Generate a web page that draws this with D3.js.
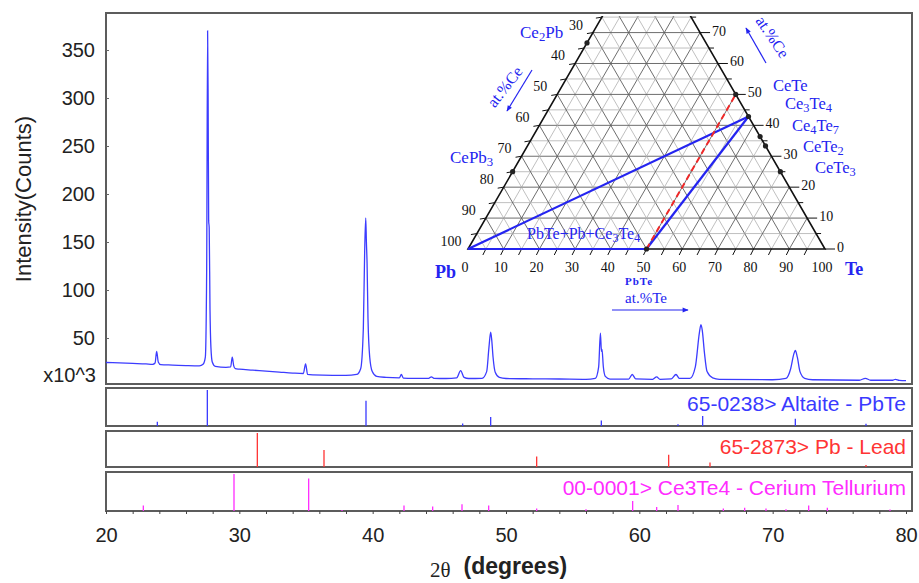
<!DOCTYPE html>
<html>
<head>
<meta charset="utf-8">
<script src="https://cdn.jsdelivr.net/npm/d3@7"></script>
<style>
body { margin: 0; background: #fff; }
svg { display: block; }
</style>
</head>
<body>
<div id="chart"></div>
<script>
// measured XRD scan: [2theta, counts x10^3]
var scan = [
	[20, 24.5], [21, 24], [22, 23.5], [23, 23], [23.5, 22.6], [23.68, 24], [23.8, 36], [23.92, 25], [24.1, 22.2],
	[25, 21.8], [26, 21.3], [27, 21], [27.3, 23], [27.45, 30], [27.55, 120], [27.62, 370], [27.66, 300],
	[27.7, 172], [27.74, 165], [27.8, 80], [27.87, 40], [27.97, 25], [28.2, 20.5], [29, 19.5], [29.35, 20],
	[29.47, 30], [29.58, 21], [29.7, 18], [30, 17.5], [31, 16.5], [32, 15.5], [33, 14.5], [34, 13.5],
	[34.8, 13], [34.97, 23], [35.12, 12], [35.5, 11.5], [37, 11], [38, 11], [38.8, 12], [39.1, 18],
	[39.3, 60], [39.4, 140], [39.48, 175], [39.53, 150], [39.58, 128], [39.65, 70], [39.78, 30],
	[39.97, 15], [40.3, 10], [41, 9], [42, 8.5], [42.15, 12], [42.3, 8.3], [43, 8], [44.2, 8], [44.4, 9.5],
	[44.6, 8], [45.5, 7.8], [46.3, 8.5], [46.6, 16], [46.85, 9], [47.2, 7.8], [48.2, 8], [48.55, 15],
	[48.72, 40], [48.85, 56], [48.93, 48], [49.03, 30], [49.2, 14], [49.5, 9], [50, 7.8], [52, 7.5],
	[54, 7.3], [56, 7], [56.7, 8], [56.95, 20], [57.08, 55], [57.16, 36], [57.2, 38], [57.3, 20],
	[57.45, 10], [57.8, 7.2], [59.2, 7.2], [59.47, 12], [59.72, 7.5], [61, 7], [61.3, 9.5], [61.55, 7],
	[62.4, 7.5], [62.75, 12], [63, 8], [63.8, 8], [64.2, 20], [64.5, 55], [64.62, 64], [64.72, 58],
	[64.88, 35], [65.08, 15], [65.5, 8.5], [66, 7], [70, 6.5], [71, 8], [71.35, 18], [71.58, 33],
	[71.7, 37], [71.85, 30], [72.05, 15], [72.4, 8], [73, 6.5], [76.5, 6], [76.95, 8], [77.35, 6],
	[79, 6], [79.2, 7], [79.5, 5.8], [80, 5.5]
]

// reference patterns: position (2theta) and relative intensity (%)
var altaitePos = [23.85, 27.6, 39.5, 46.75, 48.85, 57.15, 62.9, 64.75, 71.7, 77.0]
var altaiteRel = [12, 100, 70, 7, 25, 15, 5, 28, 20, 6]
var leadPos = [31.35, 36.35, 52.3, 62.2, 65.3, 77.0]
var leadRel = [100, 50, 31, 36, 13, 6]
var cerPos = [22.8, 29.6, 35.2, 37.7, 42.35, 44.5, 46.7, 48.7, 52.3, 56.0, 59.5, 61.3, 62.9, 66.3, 67.9, 69.5, 71.0, 72.7, 74.1, 78.8]
var cerRel = [15, 100, 88, 3, 15, 12, 18, 15, 7, 5, 27, 11, 16, 7, 9, 7, 5, 15, 9, 4]

var yTicks = [50, 100, 150, 200, 250, 300, 350]
var xTicks = [20, 30, 40, 50, 60, 70, 80]

// Ce-Pb-Te ternary (at.%)
var edgePhasesCeTe = [["CeTe", 50], ["Ce3Te4", 42.86], ["Ce4Te7", 36.36], ["CeTe2", 33.33], ["CeTe3", 25]]
var edgePhasesCePb = [["Ce2Pb", 66.67], ["CePb3", 25]]
var ternTicks = [0, 10, 20, 30, 40, 50, 60, 70, 80, 90, 100]
var sideTicks = [0, 10, 20, 30, 40, 50, 60, 70]
// tie lines as [te, ce] end points
var tieLines = [[[0, 0], [50, 0]], [[0, 0], [57.14, 42.86]], [[50, 0], [57.14, 42.86]]]
var dashedLine = [[50, 0], [50, 50]]

var width = 919, height = 583
var sans = "'Liberation Sans', Arial, sans-serif"
var serif = "'Liberation Serif', 'Times New Roman', serif"
var blue = "#2424f0"

var svg = d3.select("#chart").append("svg")
	.attr("width", width)
	.attr("height", height)
	.style("font-family", sans)

svg.append("rect").attr("width", width).attr("height", height).attr("fill", "#fff")

var x = d3.scaleLinear().domain([20, 80]).range([106, 906])
var y = d3.scaleLinear().domain([0, 385]).range([386, 16.4])

// main frame
svg.append("rect")
	.attr("x", 106).attr("y", 13).attr("width", 806).attr("height", 371)
	.attr("fill", "none").attr("stroke", "#5c5c5c").attr("stroke-width", 2)

// y axis
var yAxis = svg.append("g")
	.attr("transform", "translate(106,0)")
	.call(d3.axisLeft(y).tickValues(yTicks).tickSize(-3).tickPadding(11))
yAxis.select(".domain").remove()
yAxis.selectAll("line").attr("stroke", "#666")
yAxis.selectAll("text").attr("font-size", 20).attr("fill", "#222").style("font-family", sans)

svg.append("text")
	.attr("x", 96).attr("y", y(0) - 4)
	.attr("text-anchor", "end")
	.attr("font-size", 20).attr("fill", "#222")
	.text("x10^3")

svg.append("text")
	.attr("transform", "translate(31,199) rotate(-90)")
	.attr("text-anchor", "middle")
	.attr("font-size", 22).attr("fill", "#222")
	.text("Intensity(Counts)")

// scan trace
var line = d3.line()
	.x(function(d){return x(d[0]);})
	.y(function(d){return y(d[1]);})
	.curve(d3.curveMonotoneX)

svg.append("path")
	.datum(scan)
	.attr("d", line)
	.attr("fill", "none")
	.attr("stroke", "#3c3cff")
	.attr("stroke-width", 1.3)

// stick panels
var panels = [
	{pos: altaitePos, rel: altaiteRel, top: 388, bottom: 426, color: "#3a3aff", label: "65-0238> Altaite - PbTe"},
	{pos: leadPos, rel: leadRel, top: 431, bottom: 467, color: "#ff3434", label: "65-2873> Pb - Lead"},
	{pos: cerPos, rel: cerRel, top: 472, bottom: 511, color: "#ff2cff", label: "00-0001> Ce3Te4 - Cerium Tellurium"}
]

panels.forEach(function(p){
	var h = d3.scaleLinear().domain([0, 100]).range([p.bottom, p.top + 2])
	var g = svg.append("g")
	g.append("rect")
		.attr("x", 106).attr("y", p.top).attr("width", 806).attr("height", p.bottom - p.top)
		.attr("fill", "#fff").attr("stroke", "#5c5c5c").attr("stroke-width", 2)
	g.selectAll(".stick")
		.data(d3.zip(p.pos, p.rel))
		.enter().append("line")
		.attr("class", "stick")
		.attr("x1", function(d){return x(d[0]);})
		.attr("x2", function(d){return x(d[0]);})
		.attr("y1", h(0))
		.attr("y2", function(d){return h(d[1]);})
		.attr("stroke", p.color)
		.attr("stroke-width", 1.3)
	g.append("text")
		.attr("x", 906).attr("y", p.top + 23)
		.attr("text-anchor", "end")
		.attr("font-size", 21)
		.attr("fill", p.color)
		.text(p.label)
})

// x axis
var xMinor = svg.append("g")
	.attr("transform", "translate(0,511)")
	.call(d3.axisBottom(x).tickValues(d3.range(20, 81, 2)).tickSize(3).tickFormat(""))
xMinor.select(".domain").remove()
xMinor.selectAll("line").attr("stroke", "#444")

var xAxis = svg.append("g")
	.attr("transform", "translate(0,511)")
	.call(d3.axisBottom(x).tickValues(xTicks).tickSize(0).tickPadding(17))
xAxis.select(".domain").remove()
xAxis.selectAll("text").attr("font-size", 20).attr("fill", "#222").style("font-family", sans)

var xTitle = svg.append("text")
	.attr("x", 430).attr("y", 577)
	.attr("fill", "#222")
xTitle.append("tspan").attr("font-family", serif).attr("font-size", 21).text("2θ")
xTitle.append("tspan").attr("dx", 13).attr("dy", -3).attr("font-size", 23).attr("font-weight", "bold").text("(degrees)")

// ---------------- ternary inset ----------------
var tx = d3.scaleLinear().domain([0, 100]).range([468, 825])
var ty = d3.scaleLinear().domain([0, 100]).range([249, 249 - 357 * Math.sqrt(3) / 2])
function tern(te, ce){ return [tx(te + ce / 2), ty(ce)]; }

var defs = svg.append("defs")
defs.append("clipPath").attr("id", "triclip")
	.append("rect").attr("x", 420).attr("y", 16).attr("width", 480).attr("height", 260)
defs.append("marker")
	.attr("id", "arrow").attr("viewBox", "0 0 10 10")
	.attr("refX", 9).attr("refY", 5)
	.attr("markerWidth", 6).attr("markerHeight", 5)
	.attr("orient", "auto")
	.append("path").attr("d", "M0,1 L10,5 L0,9 Z").attr("fill", blue)

var tri = svg.append("g").attr("clip-path", "url(#triclip)")
var tline = d3.line().x(function(d){return d[0];}).y(function(d){return d[1];})

var gridVals = d3.range(5, 100, 5)
gridVals.forEach(function(v){
	var major = v % 10 === 0
	var col = major ? "#5e5e5e" : "#b0b0b0"
	var sw = major ? 0.9 : 0.8
	var segs = [
		[tern(0, v), tern(100 - v, v)],
		[tern(v, 0), tern(v, 100 - v)],
		[tern(100 - v, 0), tern(0, 100 - v)]
	]
	segs.forEach(function(s){
		tri.append("path").attr("d", tline(s)).attr("stroke", col).attr("stroke-width", sw).attr("fill", "none")
	})
})

// edges
tri.append("path")
	.attr("d", tline([tern(0, 100), tern(0, 0), tern(100, 0), tern(0, 100)]))
	.attr("fill", "none").attr("stroke", "#111").attr("stroke-width", 1.6)

// edge ticks
d3.range(5, 100, 5).forEach(function(v){
	var b = tern(v, 0)
	tri.append("line").attr("x1", b[0]).attr("y1", b[1]).attr("x2", b[0] - 3).attr("y2", b[1] + 6)
		.attr("stroke", "#111").attr("stroke-width", 1)
	var l = tern(0, v)
	tri.append("line").attr("x1", l[0]).attr("y1", l[1]).attr("x2", l[0] - 6).attr("y2", l[1] + 1)
		.attr("stroke", "#111").attr("stroke-width", 1)
	var r = tern(100 - v, v)
	var len = v % 10 === 0 ? 10 : 5
	tri.append("line").attr("x1", r[0]).attr("y1", r[1]).attr("x2", r[0] + len).attr("y2", r[1])
		.attr("stroke", "#111").attr("stroke-width", 1)
})
var r0 = tern(100, 0)
tri.append("line").attr("x1", r0[0]).attr("y1", r0[1]).attr("x2", r0[0] + 10).attr("y2", r0[1])
	.attr("stroke", "#111").attr("stroke-width", 1)

// tick labels
svg.selectAll(".tb").data(ternTicks).enter().append("text")
	.attr("x", function(d){return tx(d) - 3;})
	.attr("y", 272)
	.attr("text-anchor", "middle")
	.attr("font-family", serif).attr("font-size", 14).attr("fill", "#111")
	.text(function(d){return d;})
svg.selectAll(".tl").data(sideTicks).enter().append("text")
	.attr("x", function(d){return tern(0, d)[0] - 17;})
	.attr("y", function(d){return tern(0, d)[1] - 3;})
	.attr("text-anchor", "middle")
	.attr("font-family", serif).attr("font-size", 14).attr("fill", "#111")
	.text(function(d){return 100 - d;})
svg.selectAll(".tr").data(sideTicks).enter().append("text")
	.attr("x", function(d){return tern(100 - d, d)[0] + 12;})
	.attr("y", function(d){return tern(100 - d, d)[1] + 3;})
	.attr("text-anchor", "start")
	.attr("font-family", serif).attr("font-size", 14).attr("fill", "#111")
	.text(function(d){return d;})

// tie lines
tieLines.forEach(function(s){
	svg.append("path")
		.attr("d", tline(s.map(function(p){return tern(p[0], p[1]);})))
		.attr("stroke", blue).attr("stroke-width", 2.2).attr("fill", "none")
})
svg.append("path")
	.attr("d", tline(dashedLine.map(function(p){return tern(p[0], p[1]);})))
	.attr("stroke", "#f02828").attr("stroke-width", 2).attr("stroke-dasharray", "6,4").attr("fill", "none")

// phase dots
edgePhasesCeTe.forEach(function(p){
	var c = tern(100 - p[1], p[1])
	svg.append("circle").attr("cx", c[0]).attr("cy", c[1]).attr("r", 2.6).attr("fill", "#222")
})
edgePhasesCePb.forEach(function(p){
	var c = tern(0, p[1])
	svg.append("circle").attr("cx", c[0]).attr("cy", c[1]).attr("r", 2.6).attr("fill", "#222")
})
var pbte = tern(50, 0)
svg.append("circle").attr("cx", pbte[0]).attr("cy", pbte[1]).attr("r", 2.6).attr("fill", "#222")

// formula labels with subscripts
function formula(xp, yp, parts, size, anchor){
	var t = svg.append("text")
		.attr("x", xp).attr("y", yp)
		.attr("font-family", serif).attr("font-size", size)
		.attr("fill", blue)
		.attr("text-anchor", anchor || "start")
	var sub = false
	parts.forEach(function(s){
		var isSub = /^[0-9]$/.test(s)
		var ts = t.append("tspan").text(s)
		if (isSub && !sub) { ts.attr("dy", size * 0.2).attr("font-size", size * 0.75) }
		else if (isSub) { ts.attr("font-size", size * 0.75) }
		else if (sub) { ts.attr("dy", -size * 0.2) }
		sub = isSub
	})
	return t
}
formula(520, 38, ["Ce", "2", "Pb"], 17)
formula(450, 163, ["CePb", "3"], 17)
formula(773, 91, ["CeTe"], 16.5)
formula(785, 109, ["Ce", "3", "Te", "4"], 16.5)
formula(792, 131, ["Ce", "4", "Te", "7"], 16.5)
formula(803, 152, ["CeTe", "2"], 16.5)
formula(815, 173, ["CeTe", "3"], 16.5)
formula(527, 239, ["PbTe+Pb+Ce", "3", "Te", "4"], 16)
formula(435, 278, ["Pb"], 18).attr("font-weight", "bold")
formula(845, 275, ["Te"], 18).attr("font-weight", "bold")
formula(639, 285, ["PbTe"], 11, "middle").attr("font-weight", "bold").attr("letter-spacing", 1)
formula(646, 303, ["at.%Te"], 15, "middle")

svg.append("text")
	.attr("transform", "translate(509,90) rotate(-52)")
	.attr("text-anchor", "middle").attr("font-family", serif).attr("font-size", 16).attr("fill", blue)
	.text("at.%Ce")
svg.append("text")
	.attr("transform", "translate(768,40) rotate(56)")
	.attr("text-anchor", "middle").attr("font-family", serif).attr("font-size", 16).attr("fill", blue)
	.text("at.%Ce")

var arrows = [[[612, 310], [688, 310]], [[532, 70], [507, 111]], [[766, 63], [746, 28]]]
arrows.forEach(function(a){
	svg.append("path").attr("d", tline(a))
		.attr("stroke", blue).attr("stroke-width", 1.2).attr("fill", "none")
		.attr("marker-end", "url(#arrow)")
})
</script>
</body>
</html>
